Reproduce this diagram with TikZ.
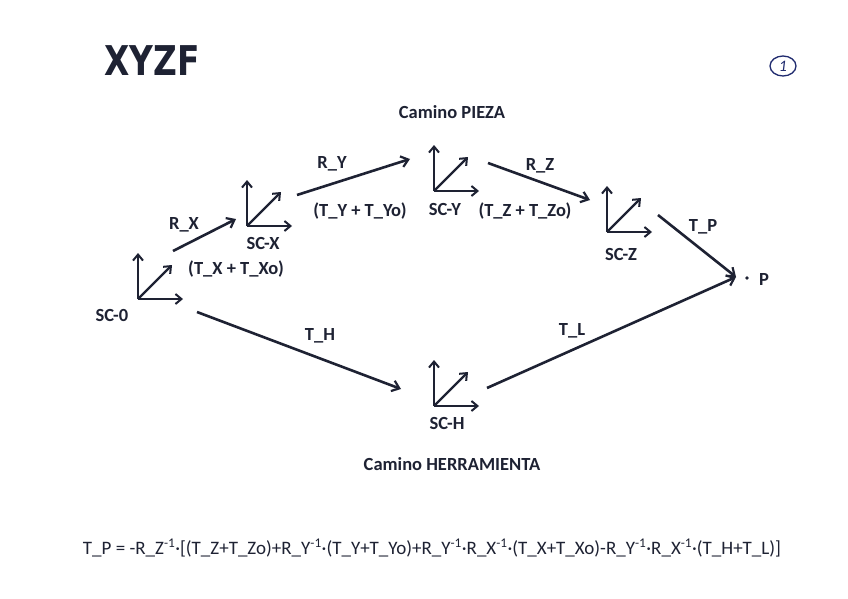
\documentclass[tikz,border=0pt]{standalone}
\usepackage{fontspec}
\setmainfont{Carlito}
\newfontfamily\titlefont{DejaVu Sans}
\usetikzlibrary{arrows.meta}
\definecolor{ink}{HTML}{1E2233}
\definecolor{pen}{HTML}{1F2A6E}
\tikzset{
  conn/.style={draw=ink, line width=2.6pt, -{Straight Barb[length=7pt,width=11pt,line width=2.2pt]}},
  ax/.style={draw=ink, line width=2.2pt, -{Straight Barb[length=6pt,width=10pt,line width=2pt]}},
  lbl/.style={font=\fontsize{18.5}{18.5}\selectfont\bfseries, text=ink, inner sep=1pt},
  triad/.pic={
    \draw[ax] (0,0) -- (0,-46);
    \draw[ax] (0,0) -- (45,0);
    \draw[ax] (0,0) -- (34,-34);
  }
}
\begin{document}
\begin{tikzpicture}[x=1pt,y=-1pt]
\useasboundingbox[fill=white] (0,0) rectangle (848,599);
% title
\node[font=\titlefont\fontsize{41}{41}\selectfont\bfseries, text=ink, xscale=0.8] (title) at (152,61) {XYZF};
% page number
\draw[pen, line width=1.3pt] (783,66) ellipse [x radius=13, y radius=10];
\node[text=pen, font=\fontsize{16}{16}\selectfont\itshape] (pg) at (783,66) {1};
% frames
\coordinate (o0) at (138,299);
\coordinate (oX) at (247,226);
\coordinate (oY) at (434,191);
\coordinate (oZ) at (607,232);
\coordinate (oH) at (434,406);
\pic at (o0) {triad};
\pic at (oX) {triad};
\pic at (oY) {triad};
\pic at (oZ) {triad};
\pic at (oH) {triad};
\node[lbl] (sc0) at (112,315) {SC-0};
\node[lbl] (scX) at (263,243) {SC-X};
\node[lbl] (scY) at (445,209) {SC-Y};
\node[lbl] (scZ) at (621,254) {SC-Z};
\node[lbl] (scH) at (447,423) {SC-H};
\fill[ink] (747,278) circle (1.8);
\node[lbl] (P) at (764,279) {P};
\coordinate (pt) at (736,277);
% connector end points
\coordinate (a1) at (173,251); \coordinate (a2) at (236,219);
\coordinate (b1) at (297,195); \coordinate (b2) at (410,159);
\coordinate (c1) at (488,163); \coordinate (c2) at (590,200);
\coordinate (d1) at (658,215);
\coordinate (e1) at (197,312); \coordinate (e2) at (401,389);
\coordinate (f1) at (487,388);
\draw[conn] (a1) -- (a2);
\draw[conn] (b1) -- (b2);
\draw[conn] (c1) -- (c2);
\draw[conn] (d1) -- (pt);
\draw[conn] (e1) -- (e2);
\draw[conn] (f1) -- (pt);
% labels
\node[lbl] (lRX) at (184,225) {R\_X};
\node[lbl] (lTX) at (236,269) {(T\_X + T\_Xo)};
\node[lbl] (lRY) at (332,164) {R\_Y};
\node[lbl] (lTY) at (360,211) {(T\_Y + T\_Yo)};
\node[lbl] (lRZ) at (540,166) {R\_Z};
\node[lbl] (lTZ) at (525,211) {(T\_Z + T\_Zo)};
\node[lbl] (lTP) at (703,227) {T\_P};
\node[lbl] (lTH) at (320,336) {T\_H};
\node[lbl] (lTL) at (572,331) {T\_L};
\node[lbl] (cp) at (452,112) {Camino PIEZA};
\node[lbl] (ch) at (452,464) {Camino HERRAMIENTA};
% formula
\node[font=\fontsize{19}{19}\selectfont, text=ink, inner sep=0pt] (eq) at (432,548)
 {T\_P = -R\_Z\textsuperscript{-1}·[(T\_Z+T\_Zo)+R\_Y\textsuperscript{-1}·(T\_Y+T\_Yo)+R\_Y\textsuperscript{-1}·R\_X\textsuperscript{-1}·(T\_X+T\_Xo)-R\_Y\textsuperscript{-1}·R\_X\textsuperscript{-1}·(T\_H+T\_L)]};
\end{tikzpicture}
\end{document}
